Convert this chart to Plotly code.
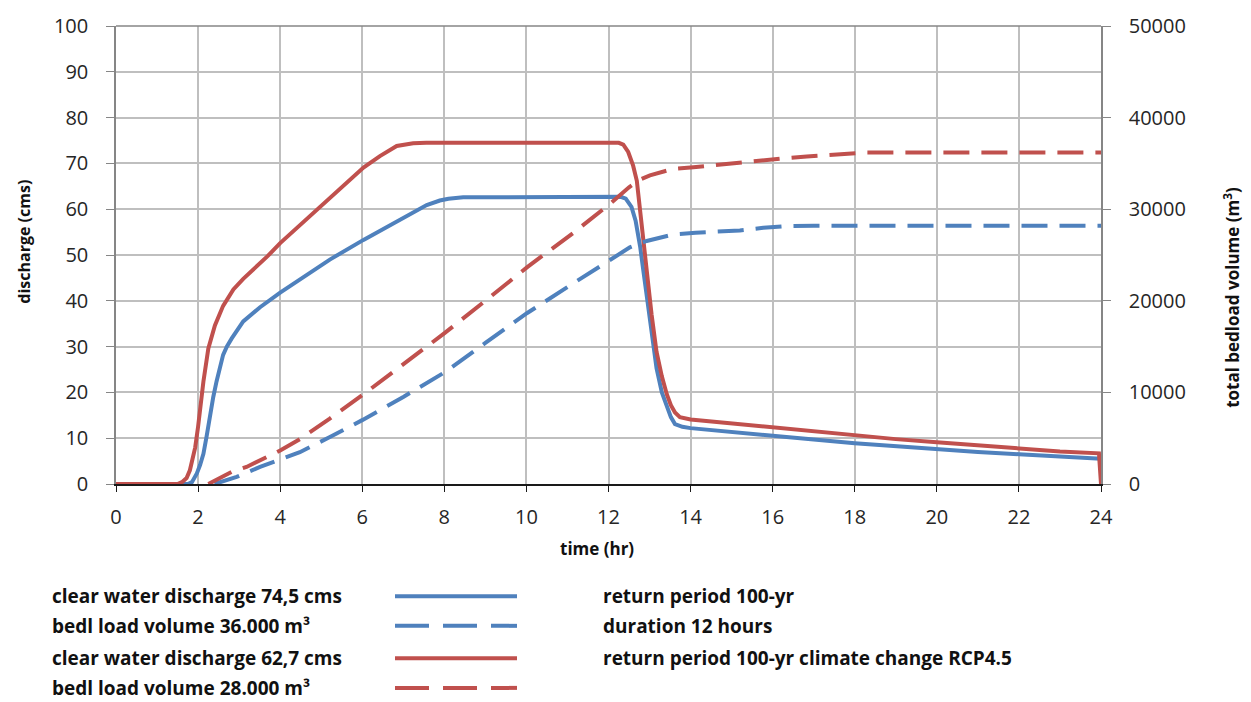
import plotly.graph_objects as go

# ---- hydrographs: clear water discharge (cms) ----
t_red = [0, 1.5, 1.62, 1.72, 1.80, 1.87, 1.93, 2.00, 2.05, 2.13, 2.25, 2.41, 2.61, 2.86, 3.10,
         3.35, 3.70, 4.00, 4.50, 5.00, 5.50, 6.03, 6.43, 6.84, 7.24, 7.56, 12.25, 12.36,
         12.48, 12.60, 12.69, 12.80, 12.93, 13.05, 13.17, 13.30, 13.42, 13.52, 13.62, 13.74,
         14.00, 15.00, 16.00, 17.00, 18.00, 19.00, 20.00, 21.00, 22.00, 23.00, 23.95, 24.0]
q_red = [0, 0, 0.5, 1.3, 3.0, 5.5, 8.0, 12.5, 16.7, 22.4, 29.6, 34.6, 38.9, 42.5, 44.8,
         46.8, 49.8, 52.6, 56.6, 60.6, 64.7, 69.1, 71.6, 73.8, 74.4, 74.5, 74.5, 74.1,
         72.5, 69.5, 66.2, 57.0, 46.8, 37.0, 28.9, 23.5, 19.6, 17.2, 15.6, 14.6,
         14.1, 13.2, 12.3, 11.4, 10.5, 9.8, 9.1, 8.4, 7.7, 7.1, 6.7, 0]

t_blue = [0, 1.75, 1.85, 1.97, 2.05, 2.13, 2.21, 2.29, 2.37, 2.45, 2.53, 2.61, 2.70, 2.82,
          3.10, 3.51, 4.00, 4.48, 5.21, 6.03, 6.84, 7.57, 7.89, 8.10, 8.46, 12.30, 12.42,
          12.56, 12.66, 12.77, 12.85, 12.93, 13.05, 13.17, 13.30, 13.42, 13.52, 13.62,
          13.80, 14.00, 15.00, 16.00, 17.00, 18.00, 19.00, 20.00, 21.00, 22.00, 23.00, 24.0]
q_blue = [0, 0, 0.4, 2.3, 4.2, 6.6, 10.5, 15.2, 19.0, 22.4, 25.5, 28.2, 30.0, 31.8,
          35.5, 38.6, 41.8, 44.7, 49.0, 53.3, 57.3, 60.9, 61.9, 62.3, 62.6, 62.7, 62.3,
          60.5, 57.5, 51.9, 46.5, 41.1, 33.0, 25.3, 20.0, 16.7, 14.6, 13.1,
          12.5, 12.2, 11.3, 10.5, 9.7, 8.9, 8.2, 7.5, 7.0, 6.5, 6.0, 5.5]

# ---- cumulative bedload volume (m3) ----
t_red_vol = [2.25, 2.82, 3.18, 3.67, 4.00, 4.48, 5.20, 6.01, 7.00, 8.02, 9.00, 10.02,
             11.14, 12.04, 12.50, 12.80, 13.01, 13.58, 14.07, 14.64, 15.20, 15.77, 16.26,
             16.83, 17.40, 17.80, 18.30, 20.00, 22.00, 24.00]
v_red = [0, 1320, 1860, 2930, 3650, 4900, 7100, 9730, 13100, 16520, 20000, 23680,
         27400, 30600, 32400, 33300, 33700, 34410, 34580, 34840, 35120, 35410, 35550,
         35760, 35910, 36080, 36190, 36200, 36200, 36200]

t_blue_vol = [2.40, 2.94, 3.51, 4.16, 4.48, 5.20, 6.01, 7.00, 8.02, 9.00, 10.02, 11.00,
              12.02, 12.52, 12.93, 13.58, 14.12, 14.64, 15.20, 15.77, 16.26, 17.00,
              18.00, 20.00, 22.00, 24.00]
v_blue = [0, 780, 1860, 2930, 3470, 5100, 7000, 9500, 12230, 15400, 18670, 21500,
          24390, 25830, 26530, 27250, 27430, 27540, 27680, 27970, 28140, 28180,
          28200, 28200, 28200, 28200]

# ---- axis ticks ----
x_ticks = list(range(0, 25, 2))
q_ticks = list(range(0, 101, 10))
v_ticks = list(range(0, 50001, 10000))

# ---- legend rows ----
legend_left = ["clear water discharge 74,5 cms", "bedl load volume 36.000 m³",
               "clear water discharge 62,7 cms", "bedl load volume 28.000 m³"]
legend_right = ["return period 100-yr", "duration 12 hours",
                "return period 100-yr climate change RCP4.5", ""]

BLUE = "#4F81BD"
RED = "#C0504D"
DASH = "26px,12px"
LEGEND_DASH = "34px,14px"
FONT = "Open Sans"
LW = 4

legend_colors = [BLUE, BLUE, RED, RED]
legend_dashes = ["solid", LEGEND_DASH, "solid", LEGEND_DASH]

W, H = 1251, 702
ML, MR, MT, MB = 116, 150, 19, 218
PW, PH = W - ML - MR, H - MT - MB


def px_x(px):
    return (px - ML) / PW


def px_y(py):
    return (H - MB - py) / PH


fig = go.Figure()
fig.add_trace(go.Scatter(x=t_blue_vol, y=v_blue, mode="lines", yaxis="y2",
                         line=dict(color=BLUE, width=LW, dash=DASH)))
fig.add_trace(go.Scatter(x=t_red_vol, y=v_red, mode="lines", yaxis="y2",
                         line=dict(color=RED, width=LW, dash=DASH)))
fig.add_trace(go.Scatter(x=t_blue, y=q_blue, mode="lines",
                         line=dict(color=BLUE, width=LW)))
fig.add_trace(go.Scatter(x=t_red, y=q_red, mode="lines",
                         line=dict(color=RED, width=LW)))

shapes = [dict(type="line", xref="paper", yref="paper", x0=0, x1=1, y0=1, y1=1,
               line=dict(color="#868686", width=1.5))]
annotations = []
row_y = [598, 628, 661, 691]
LEG_SIZE = 19
for i in range(4):
    yy = px_y(row_y[i])
    shapes.append(dict(type="line", xref="paper", yref="paper",
                       x0=px_x(395), x1=px_x(517), y0=yy, y1=yy,
                       line=dict(color=legend_colors[i], width=LW, dash=legend_dashes[i])))
    annotations.append(dict(text="<b>" + legend_left[i] + "</b>", xref="paper", yref="paper",
                            x=px_x(50), y=yy, xanchor="left", yanchor="middle",
                            showarrow=False, font=dict(family=FONT, size=LEG_SIZE, color="#111")))
    if legend_right[i]:
        annotations.append(dict(text="<b>" + legend_right[i] + "</b>", xref="paper", yref="paper",
                                x=px_x(601), y=yy, xanchor="left", yanchor="middle",
                                showarrow=False, font=dict(family=FONT, size=LEG_SIZE, color="#111")))

TITLE_SIZE = 17
annotations += [
    dict(text="<b>discharge (cms)</b>", xref="paper", yref="paper", x=px_x(24), y=px_y(238),
         textangle=-90, showarrow=False, xanchor="center", yanchor="middle",
         font=dict(family=FONT, size=TITLE_SIZE - 1, color="#111")),
    dict(text="<b>total bedload volume (m<sup>3</sup>)</b>", xref="paper", yref="paper",
         x=px_x(1232), y=px_y(295), textangle=-90, showarrow=False,
         xanchor="center", yanchor="middle", font=dict(family=FONT, size=TITLE_SIZE, color="#111")),
    dict(text="<b>time (hr)</b>", xref="paper", yref="paper", x=px_x(597), y=px_y(549),
         showarrow=False, xanchor="center", yanchor="middle",
         font=dict(family=FONT, size=TITLE_SIZE, color="#111")),
]

tickfont = dict(family=FONT, size=20, color="#262626")
fig.update_layout(
    width=W, height=H,
    margin=dict(l=ML, r=MR, t=MT, b=MB),
    paper_bgcolor="white", plot_bgcolor="white",
    showlegend=False,
    font=dict(family=FONT, color="#262626"),
    xaxis=dict(range=[0, 24], tickvals=x_ticks, showgrid=True, gridcolor="#BFBFBF",
               gridwidth=1.5, zeroline=False, showline=True, linecolor="#1a1a1a",
               linewidth=1.5, ticks="outside", ticklen=6, tickcolor="#1a1a1a",
               tickfont=tickfont, ticklabelstandoff=8),
    yaxis=dict(range=[0, 100], tickvals=q_ticks, showgrid=True, gridcolor="#BFBFBF",
               gridwidth=1.5, zeroline=False, showline=True, linecolor="#868686",
               linewidth=1.5, ticks="outside", ticklen=8, tickcolor="#868686",
               tickfont=tickfont, ticklabelstandoff=14),
    yaxis2=dict(range=[0, 50000], tickvals=v_ticks, tickformat="d", overlaying="y",
                side="right", showgrid=False, zeroline=False, showline=True,
                linecolor="#868686", linewidth=1.5, ticks="outside", ticklen=8,
                tickcolor="#868686", tickfont=tickfont, ticklabelstandoff=14),
    shapes=shapes,
    annotations=annotations,
)

fig.write_html("out.html")
